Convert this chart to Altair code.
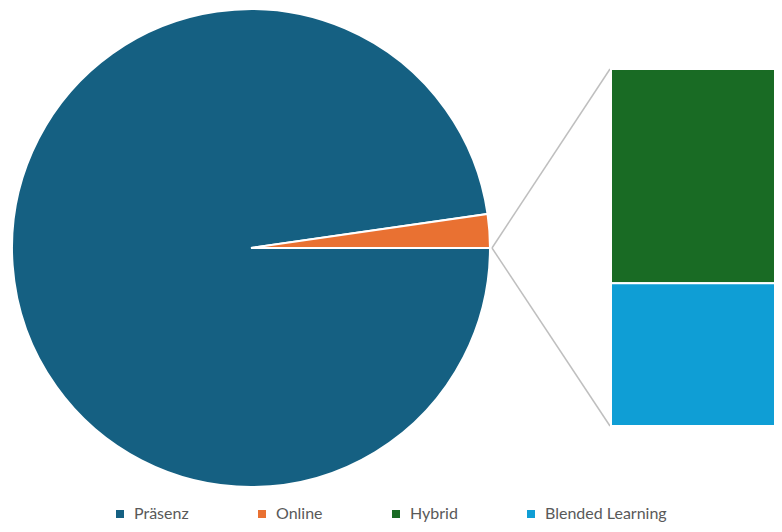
import math
import altair as alt
import pandas as pd

# ---- data ----
pie_categories = ["Präsenz", "Online"]
pie_values = [43, 1]
bar_categories = ["Hybrid", "Blended Learning"]
bar_values = [3, 2]
all_categories = ["Präsenz", "Online", "Hybrid", "Blended Learning"]
colors = ["#156082", "#E97132", "#196B24", "#0F9ED5"]

pie_df = pd.DataFrame({"cat": pie_categories, "val": pie_values, "ord": [0, 1]})

# stack the bar: Hybrid on top, Blended Learning below
bar_total = sum(bar_values)
bl = bar_values[1]
bar_df = pd.DataFrame({
    "cat": bar_categories,
    "y0": [bl, 0],
    "y1": [bar_total, bl],
})
conn_df = pd.DataFrame({"end": [0, bar_total]})

color_scale = alt.Scale(domain=all_categories, range=colors)
ybar = alt.Scale(domain=[0, bar_total], range=[418, 61], nice=False, zero=True)

legend = alt.Legend(
    orient="none", legendX=104, legendY=498, direction="horizontal", columns=4,
    columnPadding=65, symbolType="square", symbolSize=64, symbolStrokeWidth=0,
    labelFontSize=16, labelColor="#595959", labelFont="Lato", title=None,
    labelOffset=6, padding=0,
)

pie = alt.Chart(pie_df).mark_arc(
    outerRadius=239, stroke="white", strokeWidth=2
).encode(
    theta=alt.Theta("val:Q", stack=True,
                    scale=alt.Scale(range=[math.pi / 2, math.pi / 2 + 2 * math.pi])),
    color=alt.Color("cat:N", scale=color_scale, legend=legend, sort=all_categories),
    order=alt.Order("ord:Q"),
    x=alt.value(243),
    y=alt.value(240),
)

bars = alt.Chart(bar_df).mark_rect(stroke="white", strokeWidth=2).encode(
    y=alt.Y("y0:Q", scale=ybar, axis=None),
    y2="y1:Q",
    color=alt.Color("cat:N", scale=color_scale, legend=legend, sort=all_categories),
    x=alt.value(603),
    x2=alt.value(790),
)

conn = alt.Chart(conn_df).mark_rule(color="#BFBFBF", strokeWidth=1.5).encode(
    y=alt.Y("end:Q", scale=ybar, axis=None),
    y2=alt.value(240),
    x=alt.value(602),
    x2=alt.value(484),
)

chart = alt.layer(conn, pie, bars).properties(
    width=766, height=516, autosize=alt.AutoSizeParams(type="none"), padding=0
).configure_view(stroke=None).resolve_scale(y="shared")

chart.save("out.html", embed_options={"renderer": "svg", "actions": False})
